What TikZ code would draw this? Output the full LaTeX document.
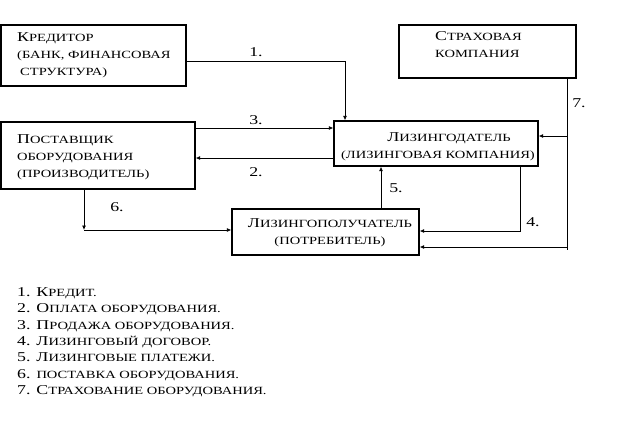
\documentclass[tikz,border=0pt]{standalone}
\usepackage{fontspec}
\setmainfont[FakeStretch=1.32]{Liberation Serif}
\usetikzlibrary{arrows.meta}
\newcommand\sm[1]{{\fontsize{11}{12}\selectfont #1}}
\tikzset{
  box/.style={draw, line width=1.3pt, rectangle, inner sep=0pt},
  txt/.style={inner sep=0pt, font=\fontsize{13.5}{17}\selectfont, align=left},
  lbl/.style={inner sep=0pt, font=\fontsize{13.5}{16}\selectfont},
  ln/.style={line width=0.8pt},
  arr/.style={line width=0.8pt, -{Latex[length=4.5pt,width=4pt]}},
}
\begin{document}
\begin{tikzpicture}[x=1pt,y=-1pt]
\useasboundingbox (0,0) rectangle (638,447);
% boxes
\node[box, minimum width=185pt, minimum height=61pt] (cred) at (93.5,55.5) {};
\node[box, minimum width=194pt, minimum height=67pt] (post) at (98,155.5) {};
\node[box, minimum width=204pt, minimum height=45pt] (lzd) at (436,143.5) {};
\node[box, minimum width=177pt, minimum height=53pt] (ins) at (487.5,51.5) {};
\node[box, minimum width=187pt, minimum height=46pt] (lp) at (325.5,232) {};
% texts
\node[txt, anchor=west] (credt) at (17,55.5) {К\sm{РЕДИТОР}\\\sm{(БАНК, ФИНАНСОВАЯ}\\\hspace*{3pt}\sm{СТРУКТУРА)}};
\node[txt, anchor=west] (postt) at (17,157) {П\sm{ОСТАВЩИК}\\\sm{ОБОРУДОВАНИЯ}\\\sm{(ПРОИЗВОДИТЕЛЬ)}};
\node[txt, anchor=west] (insu) at (435,45) {С\sm{ТРАХОВАЯ}\\\sm{КОМПАНИЯ}};
\node[txt, align=center] (lzdt) at (438,147) {\hspace*{22pt}Л\sm{ИЗИНГОДАТЕЛЬ}\\\sm{(ЛИЗИНГОВАЯ КОМПАНИЯ)}};
\node[txt, align=center] (lpt) at (330,232.5) {Л\sm{ИЗИНГОПОЛУЧАТЕЛЬ}\\\sm{(ПОТРЕБИТЕЛЬ)}};
% coordinates
\coordinate (c1) at (345,61);
\coordinate (y3) at (0,128);
\coordinate (y2) at (0,158);
\coordinate (c6) at (84,230);
\coordinate (x5) at (381,0);
\coordinate (c4) at (520,231);
\coordinate (c7) at (567,250);
\coordinate (c7a) at (567,136);
\coordinate (c7b) at (567,247);
% connectors
\draw[arr] (cred.east |- c1) -- (c1) -- (c1 |- lzd.north);
\draw[arr] (post.east |- y3) -- (lzd.west |- y3);
\draw[arr] (lzd.west |- y2) -- (post.east |- y2);
\draw[arr] (post.south -| c6) -- (c6);
\draw[arr] (c6) -- (lp.west |- c6);
\draw[arr] (lp.north -| x5) -- (lzd.south -| x5);
\draw[arr] (lzd.south -| c4) -- (c4) -- (lp.east |- c4);
\draw[ln] (ins.south -| c7) -- (c7);
\draw[arr] (c7a) -- (lzd.east |- c7a);
\draw[arr] (c7b) -- (lp.east |- c7b);
% labels
\node[lbl] (l1) at (256,52) {1.};
\node[lbl] (l3) at (256,120) {3.};
\node[lbl] (l2) at (256,172) {2.};
\node[lbl] (l6) at (117,207) {6.};
\node[lbl] (l5) at (396,188) {5.};
\node[lbl] (l4) at (533,222) {4.};
\node[lbl] (l7) at (579,103) {7.};
% legend
\node[txt, anchor=north west, font=\fontsize{13.5}{16.3}\selectfont] (legend) at (17,287.5) {%
1. К\sm{РЕДИТ.}\\
2. О\sm{ПЛАТА ОБОРУДОВАНИЯ.}\\
3. П\sm{РОДАЖА ОБОРУДОВАНИЯ.}\\
4. Л\sm{ИЗИНГОВЫЙ ДОГОВОР.}\\
5. Л\sm{ИЗИНГОВЫЕ ПЛАТЕЖИ.}\\
6. \sm{ПОСТАВКА ОБОРУДОВАНИЯ.}\\
7. С\sm{ТРАХОВАНИЕ ОБОРУДОВАНИЯ.}};
\end{tikzpicture}
\end{document}
